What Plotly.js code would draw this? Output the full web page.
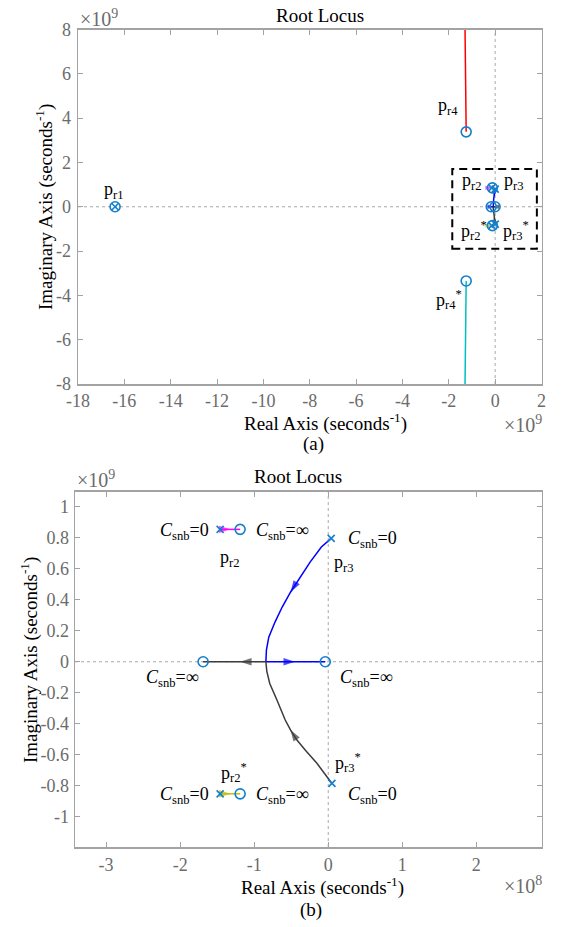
<!DOCTYPE html>
<html><head><meta charset="utf-8">
<script src="https://cdn.plot.ly/plotly-3.0.1.min.js"></script>
<style>html,body{margin:0;padding:0;background:#fff;} #chart{width:561px;height:927px;}</style>
</head><body><div id="chart"></div>
<script>
// ---------- data (values in seconds^-1) ----------
// far roots, panel (a)
const farPoleRe = [-16.4e9];
const farPoleIm = [0];
const farZeroRe = [-16.4e9, -1.25e9, -1.25e9];
const farZeroIm = [0, 3.38e9, -3.35e9];
const pr4BranchRe  = [-1.25e9, -1.27e9, -1.29e9, -1.30e9, -1.31e9];
const pr4BranchIm  = [3.38e9, 4.5e9, 6.0e9, 8.0e9, 9.0e9];
const pr4cBranchRe = [-1.25e9, -1.27e9, -1.29e9, -1.30e9, -1.31e9];
const pr4cBranchIm = [-3.35e9, -4.5e9, -6.0e9, -8.0e9, -9.0e9];

// slow roots (panel (b), also inside the dashed box of panel (a))
const slowPoleRe = [-1.46e8, 0.04e8, -1.46e8, 0.05e8];
const slowPoleIm = [0.854e9, 0.796e9, -0.852e9, -0.785e9];
const slowZeroRe = [-1.19e8, -1.69e8, -0.04e8, -1.19e8];
const slowZeroIm = [0.854e9, 0, 0, -0.852e9];

const pr2BranchRe  = [-1.46e8, -1.32e8, -1.19e8];
const pr2BranchIm  = [0.854e9, 0.854e9, 0.854e9];
const pr2cBranchRe = [-1.46e8, -1.32e8, -1.19e8];
const pr2cBranchIm = [-0.852e9, -0.852e9, -0.852e9];
// complex branch of pr3 (pole -> real axis) and its real-axis continuation
const pr3BranchRe  = [0.04e8, -0.093e8, -0.245e8, -0.382e8, -0.508e8, -0.622e8, -0.719e8, -0.803e8, -0.835e8, -0.842e8];
const pr3BranchIm  = [0.796e9, 0.740e9, 0.643e9, 0.546e9, 0.450e9, 0.353e9, 0.256e9, 0.159e9, 0.075e9, 0];
const pr3RealRe    = [-0.842e8, -0.45e8, -0.04e8];
const pr3RealIm    = [0, 0, 0];
const pr3cBranchRe = [0.05e8, -0.153e8, -0.30e8, -0.423e8, -0.51e8, -0.581e8, -0.693e8, -0.79e8, -0.83e8, -0.842e8];
const pr3cBranchIm = [-0.785e9, -0.655e9, -0.575e9, -0.505e9, -0.44e9, -0.376e9, -0.247e9, -0.14e9, -0.06e9, 0];
const pr3cRealRe   = [-0.842e8, -1.19e8, -1.69e8];
const pr3cRealIm   = [0, 0, 0];
const pr2ArrowIdx = 1;
const pr3ArrowIdx = 4;
const realArrowIdx = 1;

// ticks
const xTickValsA = [-18, -16, -14, -12, -10, -8, -6, -4, -2, 0, 2];
const xTickTextA = ['-18', '-16', '-14', '-12', '-10', '-8', '-6', '-4', '-2', '0', '2'];
const yTickValsA = [-8, -6, -4, -2, 0, 2, 4, 6, 8];
const yTickTextA = ['-8', '-6', '-4', '-2', '0', '2', '4', '6', '8'];
const xTickValsB = [-3, -2, -1, 0, 1, 2];
const xTickTextB = ['-3', '-2', '-1', '0', '1', '2'];
const yTickValsB = [-1, -0.8, -0.6, -0.4, -0.2, 0, 0.2, 0.4, 0.6, 0.8, 1];
const yTickTextB = ['-1', '-0.8', '-0.6', '-0.4', '-0.2', '0', '0.2', '0.4', '0.6', '0.8', '1'];

// ---------- styling / layout ----------
const W = 561, H = 927;
const FONT = 'Liberation Serif';
const MBLUE = '#137fcd';
const AXC = '#a3a3a3';
const TICKC = '#6b6b6b';
const zoomBox = {x0: -1.85, x1: 1.8, y0: -1.9, y1: 1.7};

function curve(re, im, sx, sy, color, xa, ya) {
  return {type: 'scatter', x: re.map(v => v / sx), y: im.map(v => v / sy), xaxis: xa, yaxis: ya,
    mode: 'lines', line: {color: color, width: 1.5}, hoverinfo: 'skip'};
}
// arrow head at point idx, oriented from point idx-1 to idx
function arrow(re, im, idx, sx, sy, color, xa, ya, asz) {
  return {type: 'scatter', mode: 'markers', xaxis: xa, yaxis: ya, hoverinfo: 'skip',
    x: [re[idx - 1] / sx, re[idx] / sx], y: [im[idx - 1] / sy, im[idx] / sy],
    marker: {symbol: 'arrow', angleref: 'previous', color: color, size: [0, asz], line: {width: 0}}};
}
function pts(re, im, sx, sy, sym, size, xa, ya) {
  return {type: 'scatter', mode: 'markers', x: re.map(v => v / sx), y: im.map(v => v / sy),
    xaxis: xa, yaxis: ya, hoverinfo: 'skip',
    marker: {symbol: sym, size: size, color: MBLUE, line: {color: MBLUE, width: 1.6}}};
}

function slowTraces(sx, xa, ya, asz) {
  const g = '#3c3c3c';
  return [
    curve(pr2BranchRe, pr2BranchIm, sx, 1e9, '#ff00ff', xa, ya),
    curve(pr2cBranchRe, pr2cBranchIm, sx, 1e9, '#bfbf00', xa, ya),
    curve(pr3BranchRe, pr3BranchIm, sx, 1e9, '#0000ff', xa, ya),
    curve(pr3RealRe, pr3RealIm, sx, 1e9, '#0000ff', xa, ya),
    curve(pr3cBranchRe, pr3cBranchIm, sx, 1e9, g, xa, ya),
    curve(pr3cRealRe, pr3cRealIm, sx, 1e9, g, xa, ya),
    arrow(pr2BranchRe, pr2BranchIm, pr2ArrowIdx, sx, 1e9, '#ff00ff', xa, ya, asz),
    arrow(pr2cBranchRe, pr2cBranchIm, pr2ArrowIdx, sx, 1e9, '#bfbf00', xa, ya, asz),
    arrow(pr3BranchRe, pr3BranchIm, pr3ArrowIdx, sx, 1e9, '#0000ff', xa, ya, asz),
    arrow(pr3RealRe, pr3RealIm, realArrowIdx, sx, 1e9, '#0000ff', xa, ya, asz),
    arrow(pr3cBranchRe, pr3cBranchIm, pr3ArrowIdx, sx, 1e9, g, xa, ya, asz),
    arrow(pr3cRealRe, pr3cRealIm, realArrowIdx, sx, 1e9, g, xa, ya, asz),
    pts(slowZeroRe, slowZeroIm, sx, 1e9, 'circle-open', 10, xa, ya),
    pts(slowPoleRe, slowPoleIm, sx, 1e9, 'x-thin-open', 7, xa, ya)
  ];
}

let traces = [];
// panel (a): units 1e9 both axes
traces.push(curve(pr4BranchRe, pr4BranchIm, 1e9, 1e9, '#ff0000', 'x', 'y'));
traces.push(curve(pr4cBranchRe, pr4cBranchIm, 1e9, 1e9, '#00bfbf', 'x', 'y'));
traces.push(pts(farZeroRe, farZeroIm, 1e9, 1e9, 'circle-open', 10, 'x', 'y'));
traces.push(pts(farPoleRe, farPoleIm, 1e9, 1e9, 'x-thin-open', 7, 'x', 'y'));
traces = traces.concat(slowTraces(1e9, 'x', 'y', 7));
// panel (b): real axis 1e8, imaginary axis 1e9
traces = traces.concat(slowTraces(1e8, 'x2', 'y2', 12));

function axis(extra) {
  return Object.assign({showgrid: false, zeroline: false, showline: true, linecolor: AXC, linewidth: 1.5,
    mirror: 'allticks', ticks: 'inside', ticklen: 5, tickwidth: 1, tickcolor: AXC, tickmode: 'array',
    tickfont: {family: FONT, size: 18, color: TICKC}, fixedrange: true}, extra);
}
function ann(text, x, y, o) {
  return Object.assign({text: text, xref: 'paper', yref: 'paper', x: x / W, y: 1 - y / H,
    xanchor: 'center', yanchor: 'middle', showarrow: false,
    font: {family: FONT, size: 18, color: '#000'}}, o || {});
}
const gray = {font: {family: FONT, size: 20, color: TICKC}};
const big = {font: {family: FONT, size: 19, color: '#000'}};
const CS = '<i>C</i><sub>snb</sub>';

const annotations = [
  // panel (a)
  ann('Root Locus', 320, 15, big),
  ann('×10<sup>9</sup>', 78, 32, Object.assign({xanchor: 'left', yanchor: 'bottom'}, gray)),
  ann('×10<sup>9</sup>', 502, 410, Object.assign({xanchor: 'left', yanchor: 'top'}, gray)),
  ann('Real Axis (seconds<sup>-1</sup>)', 325, 422, big),
  ann('(a)', 313, 444, big),
  ann('Imaginary Axis (seconds<sup>-1</sup>)', 44, 207, Object.assign({textangle: -90}, big)),
  ann('p<sub>r1</sub>', 114, 191),
  ann('p<sub>r4</sub>', 448, 106),
  ann('p<sub>r4</sub><sup>*</sup>', 449, 299),
  ann('p<sub>r2</sub>', 472, 182),
  ann('p<sub>r3</sub>', 514, 182),
  ann('p<sub>r2</sub><sup>*</sup>', 474, 230),
  ann('p<sub>r3</sub><sup>*</sup>', 516, 230),
  // panel (b)
  ann('Root Locus', 298, 476, big),
  ann('×10<sup>9</sup>', 75, 493, Object.assign({xanchor: 'left', yanchor: 'bottom'}, gray)),
  ann('×10<sup>8</sup>', 502, 871, Object.assign({xanchor: 'left', yanchor: 'top'}, gray)),
  ann('Real Axis (seconds<sup>-1</sup>)', 322, 886, big),
  ann('(b)', 311, 910, big),
  ann('Imaginary Axis (seconds<sup>-1</sup>)', 29, 660, Object.assign({textangle: -90}, big)),
  ann(CS + '=0', 184, 531),
  ann(CS + '=∞', 282, 531),
  ann('p<sub>r2</sub>', 230, 558),
  ann(CS + '=0', 372, 539),
  ann('p<sub>r3</sub>', 344, 563),
  ann(CS + '=∞', 172, 678),
  ann(CS + '=∞', 366, 678),
  ann('p<sub>r2</sub><sup>*</sup>', 234, 772),
  ann(CS + '=0', 184, 795),
  ann(CS + '=∞', 282, 795),
  ann('p<sub>r3</sub><sup>*</sup>', 348, 762),
  ann(CS + '=0', 372, 795)
];

const dotted = {color: '#a8a8a8', width: 1, dash: 'dot'};
const shapes = [
  {type: 'line', xref: 'x', yref: 'y domain', x0: 0, x1: 0, y0: 0, y1: 1, line: dotted, layer: 'below'},
  {type: 'line', xref: 'x domain', yref: 'y', x0: 0, x1: 1, y0: 0, y1: 0, line: dotted, layer: 'below'},
  {type: 'line', xref: 'x2', yref: 'y2 domain', x0: 0, x1: 0, y0: 0, y1: 1, line: dotted, layer: 'below'},
  {type: 'line', xref: 'x2 domain', yref: 'y2', x0: 0, x1: 1, y0: 0, y1: 0, line: dotted, layer: 'below'},
  {type: 'rect', xref: 'x', yref: 'y', x0: zoomBox.x0, x1: zoomBox.x1, y0: zoomBox.y0, y1: zoomBox.y1,
   line: {color: '#000', width: 2, dash: '8px,5px'}}
];

const layout = {
  width: W, height: H, margin: {l: 0, r: 0, t: 0, b: 0},
  paper_bgcolor: '#fff', plot_bgcolor: '#fff', showlegend: false,
  font: {family: FONT},
  xaxis: axis({domain: [78 / W, 541.5 / W], range: [-18, 2], anchor: 'y', tickvals: xTickValsA, ticktext: xTickTextA, ticklabelstandoff: 0}),
  yaxis: axis({domain: [1 - 384 / H, 1 - 29.5 / H], range: [-8, 8], anchor: 'x', tickvals: yTickValsA, ticktext: yTickTextA, ticklabelstandoff: 2}),
  xaxis2: axis({domain: [75 / W, 541.5 / W], range: [-3.42, 2.88], anchor: 'y2', tickvals: xTickValsB, ticktext: xTickTextB, ticklabelstandoff: 1}),
  yaxis2: axis({domain: [1 - 847 / H, 1 - 491.7 / H], range: [-1.195, 1.097], anchor: 'x2', tickvals: yTickValsB, ticktext: yTickTextB, ticklabelstandoff: 1}),
  annotations: annotations,
  shapes: shapes
};

Plotly.newPlot('chart', traces, layout, {displayModeBar: false, staticPlot: true});
</script>
</body></html>
